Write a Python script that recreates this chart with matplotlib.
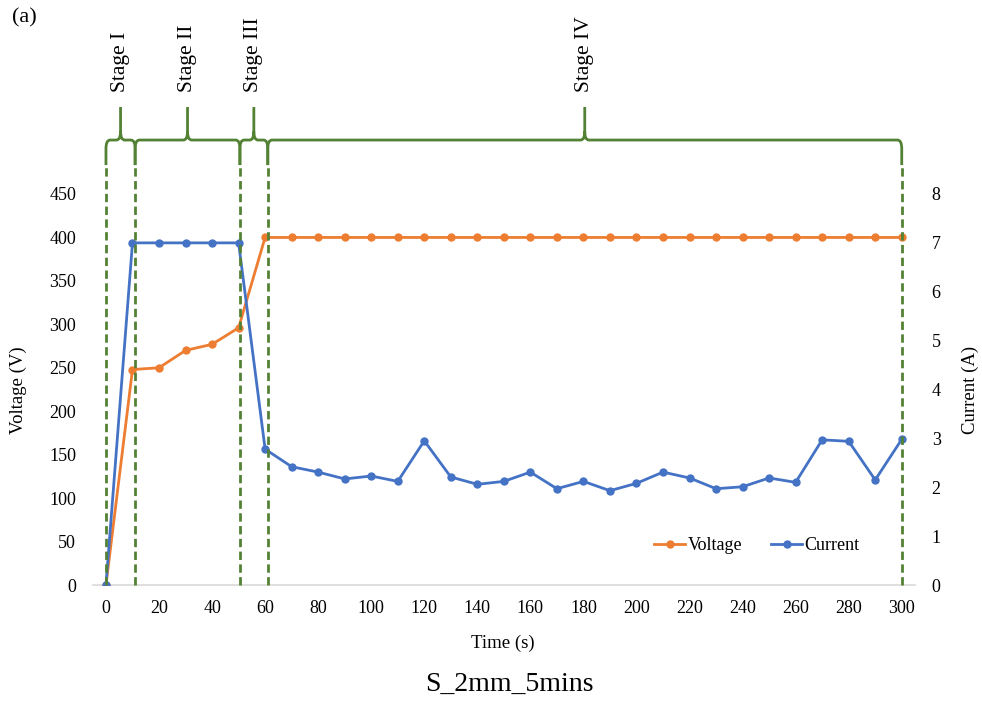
import matplotlib
matplotlib.use("Agg")
import matplotlib.pyplot as plt
from matplotlib.path import Path
from matplotlib.patches import PathPatch
import matplotlib.transforms as mtransforms

plt.rcParams['font.family'] = ['Liberation Serif', 'DejaVu Serif']

# ---- data ----
time_s = [0, 10, 20, 30, 40, 50, 60, 70, 80, 90, 100, 110, 120, 130, 140, 150,
          160, 170, 180, 190, 200, 210, 220, 230, 240, 250, 260, 270, 280, 290, 300]
voltage = [0, 248, 250, 270, 277, 296] + [400] * 25
current = [0, 7.0, 7.0, 7.0, 7.0, 7.0, 2.78, 2.42, 2.31, 2.17, 2.23, 2.12, 2.95,
           2.21, 2.06, 2.12, 2.31, 1.97, 2.12, 1.93, 2.08, 2.31, 2.19, 1.97, 2.01,
           2.19, 2.10, 2.97, 2.94, 2.15, 2.98]
stage_bounds = [0, 11, 50.5, 61, 300]
stage_names = ["Stage I", "Stage II", "Stage III", "Stage IV"]
x_ticks = list(range(0, 301, 20))
v_ticks = list(range(0, 451, 50))
c_ticks = list(range(0, 9))

ORANGE = '#ED7D31'
BLUE = '#4472C4'
GREEN = '#548235'

W, H = 982, 702
fig = plt.figure(figsize=(W / 100, H / 100), dpi=100)
left, right, bottom, top = 92.7, 915, 585, 194
ax = fig.add_axes([left / W, 1 - bottom / H, (right - left) / W, (bottom - top) / H])
ax2 = ax.twinx()

ax.plot(time_s, voltage, color=ORANGE, lw=2.0, marker='o', ms=5, label='Voltage', zorder=3)
ax2.plot(time_s, current, color=BLUE, lw=2.0, marker='o', ms=5, label='Current', zorder=3)

ax.set_xlim(-5, 305)
ax.set_ylim(0, 450)
ax2.set_ylim(0, 8)
ax.set_xticks(x_ticks)
ax.set_yticks(v_ticks)
ax2.set_yticks(c_ticks)

for a in (ax, ax2):
    for s in a.spines.values():
        s.set_visible(False)
    a.tick_params(length=0, labelsize=13, colors='black')
ax.tick_params(axis='x', pad=11)
ax.tick_params(axis='y', pad=12)
ax2.tick_params(axis='y', pad=12)
ax.spines['bottom'].set_visible(True)
ax.spines['bottom'].set_color('#D9D9D9')
ax.spines['bottom'].set_linewidth(1.2)

# stage dividers and braces
trans = mtransforms.blended_transform_factory(ax2.transData, ax2.transAxes)
for xb in stage_bounds:
    ax2.plot([xb, xb], [0, 1.069], transform=trans, color=GREEN, lw=2.0,
             ls=(0, (3, 1.6)), clip_on=False, zorder=5)

y_end, y_bar, y_tip, dx, dy = 1.074, 1.138, 1.2225, 1.6, 0.022
for i, name in enumerate(stage_names):
    x0, x1 = stage_bounds[i], stage_bounds[i + 1]
    mid = (x0 + x1) / 2
    verts = [(x0, y_end), (x0, y_bar - dy), (x0, y_bar), (x0 + dx, y_bar),
             (mid - dx, y_bar), (mid, y_bar), (mid, y_bar + dy), (mid, y_tip),
             (mid, y_bar + dy), (mid, y_bar), (mid + dx, y_bar),
             (x1 - dx, y_bar), (x1, y_bar), (x1, y_bar - dy), (x1, y_end)]
    codes = [Path.MOVETO, Path.LINETO, Path.CURVE3, Path.CURVE3,
             Path.LINETO, Path.CURVE3, Path.CURVE3, Path.LINETO,
             Path.MOVETO, Path.CURVE3, Path.CURVE3,
             Path.LINETO, Path.CURVE3, Path.CURVE3, Path.LINETO]
    patch = PathPatch(Path(verts, codes), transform=trans, fill=False,
                      edgecolor=GREEN, lw=2.0, clip_on=False, zorder=5)
    ax2.add_patch(patch)
    ax2.text(mid, 1.261, name, transform=trans, rotation=90, ha='center',
             va='bottom', fontsize=15.5)

# legend
h1, l1 = ax.get_legend_handles_labels()
h2, l2 = ax2.get_legend_handles_labels()
ax2.legend(h1 + h2, l1 + l2, loc='center', bbox_to_anchor=(0.808, 0.1), ncol=2,
           frameon=False, fontsize=13, handlelength=1.7, handletextpad=0.15,
           columnspacing=1.6)

# labels
fig.text(18.5 / W, 1 - 390 / H, 'Voltage (V)', rotation=90, ha='center', va='center', fontsize=13.5)
fig.text(970 / W, 1 - 390 / H, 'Current (A)', rotation=90, ha='center', va='center', fontsize=13.5)
fig.text(503 / W, 1 - 643 / H, 'Time (s)', ha='center', va='center', fontsize=13.5)
fig.text(509 / W, 1 - 684 / H, 'S_2mm_5mins', ha='center', va='center', fontsize=20)
fig.text(24 / W, 1 - 18 / H, '(a)', ha='center', va='center', fontsize=16)

fig.savefig('out.png', dpi=100)
